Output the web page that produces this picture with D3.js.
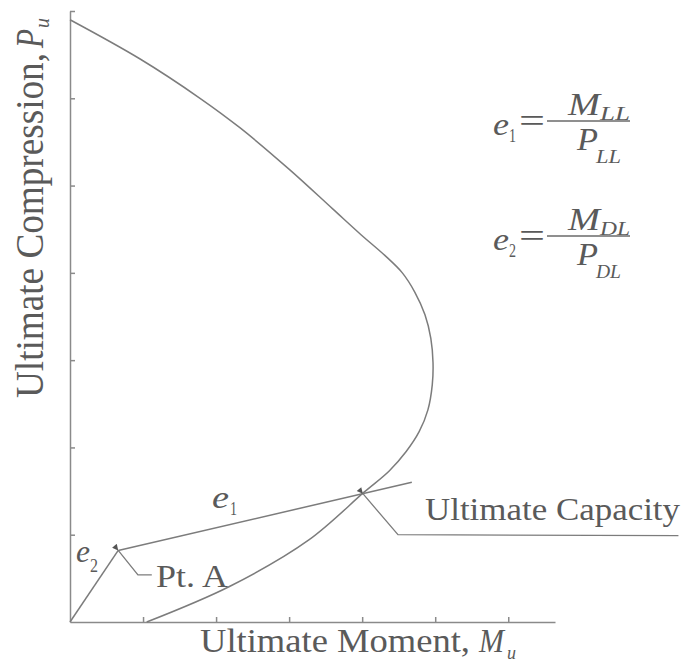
<!DOCTYPE html>
<html><head><meta charset="utf-8">
<script src="https://cdn.jsdelivr.net/npm/d3@7"></script>
<style>body{margin:0;background:#fff}svg{display:block}</style>
</head><body>
<script>
// Interaction diagram (capacity curve), values in chart units
const capM = [0.0, 0.96, 1.78, 2.33, 3.01, 3.60, 3.98, 4.31, 4.55, 4.72, 4.86, 4.94, 4.97, 4.96, 4.90, 4.78, 4.60, 4.37, 4.03, 3.27, 2.19, 1.05];
const capP = [6.90, 6.45, 6.00, 5.66, 5.18, 4.73, 4.44, 4.20, 4.00, 3.78, 3.52, 3.25, 2.97, 2.72, 2.43, 2.18, 1.95, 1.73, 1.49, 0.94, 0.41, 0.0];
// load paths
const e2M = [0, 0.66];
const e2P = [0, 0.82];
const e1M = [0.66, 4.68];
const e1P = [0.82, 1.60];
// leaders
const ptALeaderM = [0.66, 0.93, 1.12];
const ptALeaderP = [0.82, 0.54, 0.54];
const ucLeaderM = [4.01, 4.49, 8.33];
const ucLeaderP = [1.47, 1.00, 0.99];
const xTicks = [1, 2, 3, 4, 5, 6];
const yTicks = [1, 2, 3, 4, 5, 6, 7];

const FONT = "'Liberation Serif','DejaVu Serif','Times New Roman',Times,serif";
const W = 683, H = 666;
const x = d3.scaleLinear().domain([0, 6.64]).range([70, 555]);
const y = d3.scaleLinear().domain([0, 7]).range([622, 11]);
const LC = "#7c7c7c";

const svg = d3.select("body").append("svg").attr("width", W).attr("height", H)
  .attr("font-family", FONT);
const defs = svg.append("defs");
defs.append("marker").attr("id", "arr").attr("viewBox", "0 0 10 10")
  .attr("refX", 0).attr("refY", 5).attr("markerWidth", 9).attr("markerHeight", 6)
  .attr("markerUnits", "userSpaceOnUse").attr("orient", "auto-start-reverse")
  .append("path").attr("d", "M10,0 L0,5 L10,10 Z").attr("fill", "#555");

// axes
const xa = svg.append("g").attr("transform", `translate(0,${y(0)})`)
  .call(d3.axisBottom(x).tickValues(xTicks).tickSizeInner(-5).tickSizeOuter(0).tickFormat(""));
const ya = svg.append("g").attr("transform", `translate(${x(0)},0)`)
  .call(d3.axisLeft(y).tickValues(yTicks).tickSizeInner(-5).tickSizeOuter(0).tickFormat(""));
[xa, ya].forEach(g => { g.selectAll("path,line").attr("stroke", "#8a8a8a").attr("stroke-width", 1.5); });

const zip = (a, b) => a.map((v, i) => [v, b[i]]);
const curve = d3.line().x(d => x(d[0])).y(d => y(d[1])).curve(d3.curveCatmullRom.alpha(0.5));
const lin = d3.line().x(d => x(d[0])).y(d => y(d[1]));

svg.append("path").datum(zip(capM, capP)).attr("d", curve)
  .attr("fill", "none").attr("stroke", LC).attr("stroke-width", 1.5);
[[e2M, e2P], [e1M, e1P]].forEach(([m, p]) => {
  svg.append("path").datum(zip(m, p)).attr("d", lin)
    .attr("fill", "none").attr("stroke", LC).attr("stroke-width", 1.5);
});
[[ptALeaderM, ptALeaderP], [ucLeaderM, ucLeaderP]].forEach(([m, p]) => {
  svg.append("path").datum(zip(m, p)).attr("d", lin)
    .attr("fill", "none").attr("stroke", LC).attr("stroke-width", 1.3)
    .attr("marker-start", "url(#arr)");
});

function txt(g, xp, yp, s, size, italic, len) {
  const t = g.append("text").attr("x", xp).attr("y", yp).attr("font-size", size)
    .attr("font-family", FONT).attr("fill", "#5a5a5a")
    .attr("font-style", italic ? "italic" : "normal").text(s);
  if (len) t.attr("textLength", len).attr("lengthAdjust", "spacingAndGlyphs");
  return t;
}

// axis titles
txt(svg, 200, 652, "Ultimate Moment,", 33, false, 270);
txt(svg, 479, 652, "M", 33, true, 25);
txt(svg, 507, 659, "u", 19, true, 9);

const yl = svg.append("g").attr("transform", "translate(43,398) rotate(-90)");
txt(yl, 0, 0, "Ultimate Compression,", 40, false, 345);
txt(yl, 350, 0, "P", 40, true, 19);
txt(yl, 370, 6, "u", 22, true, 10);

// annotations
txt(svg, 425, 520, "Ultimate Capacity", 31, false, 255);
txt(svg, 156, 587, "Pt. A", 32, false, 72);
txt(svg, 212, 508, "e", 31, true, 17);
txt(svg, 230, 515, "1", 19, false, 7);
txt(svg, 76, 562, "e", 31, true, 14);
txt(svg, 90, 572, "2", 19, false, 8);

// formulas
function formula(yb, sub, subD) {
  txt(svg, 493, yb + 14, "e", 31, true, 16);
  txt(svg, 509, yb + 21, sub, 19, false, 7);
  txt(svg, 519, yb + 11, "=", 34, false, 26);
  svg.append("line").attr("x1", 547).attr("x2", 630).attr("y1", yb).attr("y2", yb)
    .attr("stroke", "#6a6a6a").attr("stroke-width", 1.5);
  txt(svg, 568, yb - 6, "M", 31, true, 32);
  txt(svg, 600, yb - 1, subD, 19, true, 30);
  txt(svg, 577, yb + 29, "P", 31, true, 21);
  txt(svg, 596, yb + 42, subD, 19, true, 25);
}
formula(121, "1", "LL");
formula(236, "2", "DL");
</script>
</body></html>
